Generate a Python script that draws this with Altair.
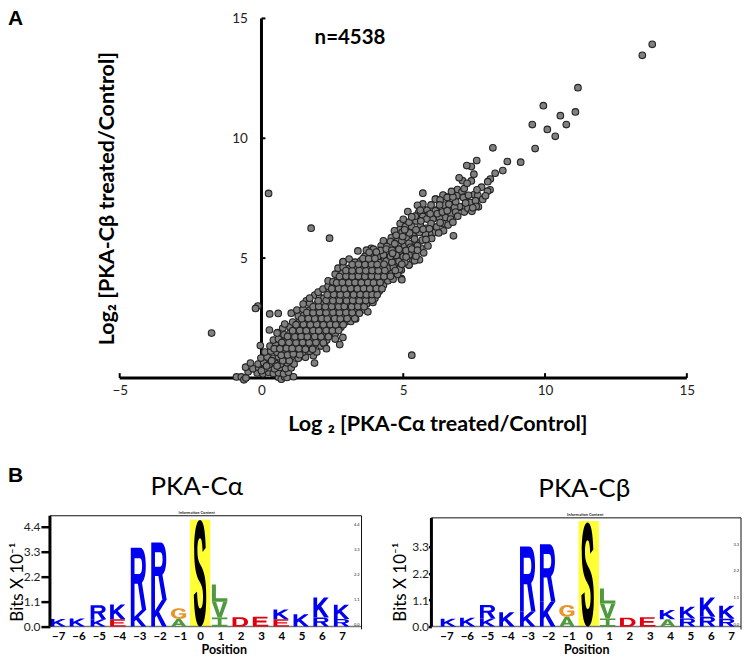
import re
import altair as alt
import pandas as pd

FONT = "Lato"

# ---------- Panel A values ----------
scatter_points = [
# outliers and the sparse tail
(13.78,13.92),(13.43,13.46),(11.16,12.11),(9.94,11.36),(10.54,10.94),(11.07,11.1),(10.75,10.57),(9.55,10.57),
(10.08,10.37),(10.36,10.08),(9.65,9.57),(8.16,9.6),(9.14,9.0),(8.67,9.03),(8.51,8.65),(8.24,8.54),(8.07,8.3),
(7.98,8.19),(8.06,7.85),(7.97,7.79),(7.76,7.96),(7.59,9.07),(7.4,8.82),(7.24,8.86),(7.49,8.5),(7.4,8.22),
(7.09,8.23),(6.97,8.35),(6.91,7.86),(7.07,7.76),(7.14,7.53),(6.89,7.58),(6.42,7.61),(6.56,7.54),(6.15,7.46),
(7.5,7.65),(7.63,7.62),(7.56,7.38),(7.38,7.3),(7.65,7.14),(7.07,7.14),(6.95,7.11),(6.62,7.24),(6.47,7.18),
(6.16,7.0),(6.01,6.97),(6.7,6.8),(6.48,6.73),(6.3,6.7),(6.71,6.97),
(0.25,7.7),(1.75,6.25),(2.4,5.83),(5.3,0.95),(-1.76,1.87),(-0.13,3.0),(-0.21,2.9),(0.29,2.67),(0.59,2.69),
(0.28,2.0),(0.57,1.89),(-0.04,1.35),
# upper band
(5.69,7.71),(6.4,7.63),(6.55,7.53),(6.89,7.6),(7.12,7.53),(6.13,7.46),(5.69,7.26),(7.36,7.32),(7.55,7.39),
(6.45,7.21),(6.61,7.25),(6.98,7.15),(6.81,7.11),(5.16,6.94),(5.54,6.9),(5.84,7.0),(6.13,6.97),(7.57,7.15),
(5.87,6.79),(5.69,6.74),(6.69,6.83),(6.48,6.69),(6.28,6.65),(6.04,6.63),(5.83,6.63),(6.67,6.63),(4.89,6.44),
(5.98,6.44),(6.4,6.44),(5.08,6.32),(5.3,6.32),(5.6,6.38),(5.81,6.24),(4.87,6.18),(4.69,6.14),(6.42,6.14),
(6.77,5.93),(6.1,6.07),(5.93,6.0),(5.78,6.0),(5.57,6.07),(4.96,6.07),(5.34,5.93),(4.58,5.86),(4.81,5.79),
(5.1,5.86),(5.67,5.75),(5.46,5.65),(5.87,5.51),(5.05,5.49),(4.81,5.54),(4.55,5.69),(4.22,5.51),(4.4,5.24),
(4.63,5.31),(4.87,5.24),(5.16,5.24),(5.46,5.38),(5.34,5.17),(5.57,4.93),(5.2,4.71),(4.81,4.93),(4.52,4.96),
(4.34,4.96),(4.93,4.5),(4.52,4.54),(4.22,4.68),(4.69,4.75),(5.01,4.93),(5.34,4.89),(4.17,5.17),(4.93,4.15),
# denser reading of the band above y = 5
(4.3,5.72),(4.42,5.48),(4.7,5.6),(4.95,5.72),(5.2,5.62),(5.4,5.8),(5.62,5.42),(5.72,5.22),(5.5,5.52),(5.25,5.45),
(4.75,5.95),(4.98,5.9),(5.22,6.05),(5.45,6.18),(5.7,6.2),(5.92,6.22),(6.18,6.3),(6.0,5.82),(5.8,5.78),(6.25,6.05),
(5.05,6.18),(5.2,6.5),(5.45,6.55),(5.62,6.55),(5.42,6.75),(5.95,6.85),(6.2,6.85),(6.38,6.92),(6.55,6.98),(6.85,6.92),
(5.3,6.72),(5.0,6.62),(6.3,6.48),(6.58,6.38),(6.75,6.5),(6.92,6.75),(7.15,6.92),(7.28,7.08),(7.42,6.95),(6.85,7.35),
(6.3,7.42),(5.98,7.22),(6.28,7.22),(7.2,7.3),(5.5,7.2),(5.6,7.0),(7.3,7.62),(7.15,7.9),(7.25,8.12),(7.6,7.85),
(6.75,7.55),(6.7,7.78),(7.8,7.45),(7.9,7.6),(7.45,7.1),
(1.58,3.22),(1.88,3.46),(2.46,3.99),(2.87,4.82),(3.87,5.41),
# main band, rising from the origin
(-0.88,0.04),(-0.71,0.04),(-0.62,-0.08),(-0.55,0.0),(0.6,0.03),(0.7,-0.05),(0.82,0.04),(0.9,0.02),(1.13,0.05),
(-0.47,0.26),(-0.15,0.21),(0.05,0.17),(0.25,0.24),(0.42,0.19),(0.6,0.22),(0.78,0.17),(0.95,0.24),
(-0.56,0.45),(-0.3,0.38),(-0.1,0.44),(0.1,0.37),(0.28,0.43),(0.46,0.38),(0.65,0.44),(0.85,0.39),(1.05,0.42),
(-0.39,0.62),(-0.12,0.58),(0.08,0.63),(0.27,0.57),(0.48,0.62),(0.68,0.58),(0.9,0.63),(1.15,0.58),(1.87,0.62),
(-0.02,0.83),(0.2,0.87),(0.42,0.82),(0.6,0.88),(0.85,0.83),(1.05,0.87),(1.3,0.82),(1.55,0.86),(1.83,0.93),
(0.12,1.08),(0.33,1.12),(0.55,1.07),(0.78,1.13),(1.0,1.08),(1.2,1.12),(1.45,1.07),(1.7,1.11),(1.95,1.08),
(0.3,1.33),(0.5,1.37),(0.7,1.32),(0.95,1.38),(1.15,1.33),(1.4,1.37),(1.6,1.32),(1.85,1.36),(2.1,1.33),(2.22,1.42),(2.29,1.22),
(0.42,1.58),(0.6,1.62),(0.85,1.57),(1.1,1.63),(1.3,1.58),(1.55,1.62),(1.8,1.57),(2.05,1.61),(2.3,1.58),(2.76,1.39),(2.87,1.69),
(0.55,1.87),(0.8,1.8),(1.0,1.86),(1.25,1.82),(1.5,1.87),(1.72,1.83),(1.95,1.86),(2.15,1.82),(2.4,1.92),(2.6,1.84),
(0.75,2.08),(1.0,2.13),(1.2,2.07),(1.45,2.12),(1.65,2.08),(1.9,2.13),(2.1,2.07),(2.35,2.12),(2.55,2.08),(2.8,2.12),
(0.82,2.25),(1.1,2.33),(1.35,2.37),(1.55,2.32),(1.8,2.38),(2.0,2.33),(2.25,2.37),(2.5,2.32),(2.7,2.37),(2.95,2.33),(3.15,2.36),
(1.05,2.7),(1.3,2.58),(1.5,2.63),(1.75,2.58),(1.95,2.62),(2.2,2.57),(2.4,2.63),(2.65,2.58),(2.85,2.62),(3.11,2.62),(3.32,2.46),(3.29,2.48),
(1.25,2.83),(1.47,2.87),(1.7,2.82),(1.9,2.88),(2.15,2.83),(2.35,2.87),(2.6,2.82),(2.85,2.87),(3.05,2.83),(3.3,2.87),(3.55,2.83),(3.75,2.76),
(1.47,3.08),(1.7,3.12),(1.95,3.07),(2.1,3.13),(2.35,3.08),(2.6,3.12),(2.8,3.07),(3.0,3.12),(3.25,3.08),(3.5,3.12),(3.7,3.07),(3.93,3.15),
(1.7,3.33),(2.05,3.36),(2.2,3.32),(2.45,3.37),(2.65,3.33),(2.9,3.38),(3.15,3.32),(3.35,3.37),(3.6,3.33),(3.8,3.37),(4.0,3.33),
(2.0,3.58),(2.17,3.71),(2.4,3.62),(2.6,3.57),(2.85,3.63),(3.05,3.58),(3.3,3.62),(3.5,3.57),(3.75,3.63),(3.95,3.58),(4.15,3.62),
(2.35,3.83),(2.52,3.87),(2.75,3.82),(2.95,3.88),(3.2,3.83),(3.4,3.87),(3.65,3.82),(3.85,3.88),(4.1,3.83),(4.3,3.87),
(2.35,4.05),(2.52,4.01),(2.7,4.12),(2.9,4.07),(3.1,4.13),(3.35,4.08),(3.55,4.12),(3.8,4.07),(4.0,4.13),(4.22,4.05),(4.46,4.05),(4.64,4.12),(4.95,4.1),
(2.6,4.33),(2.85,4.37),(3.05,4.32),(3.3,4.38),(3.5,4.33),(3.75,4.37),(3.95,4.32),(4.15,4.38),(4.4,4.33),(4.6,4.37),(4.8,4.33),
(2.7,4.58),(2.88,4.62),(3.1,4.57),(3.35,4.63),(3.6,4.58),(3.8,4.62),(4.05,4.57),(4.25,4.63),(4.45,4.58),(4.65,4.62),(4.87,4.54),(5.2,4.71),
(2.88,4.85),(3.09,4.96),(3.3,4.83),(3.5,4.88),(3.75,4.83),(3.95,4.87),(4.15,4.82),(4.4,4.88),(4.6,4.83),(4.85,4.87),(5.05,4.83),(5.4,4.89),
(3.4,5.3),(3.65,5.08),(3.85,5.12),(4.1,5.07),(4.3,5.13),(4.55,5.08),(4.75,5.12),(5.0,5.07),(5.2,5.13),(5.45,5.08),
(3.7,5.33),(3.95,5.37),(4.2,5.32),(4.4,5.38),(4.6,5.33),(4.85,5.37),(5.1,5.32),(5.3,5.38),(5.5,5.33),
# interleaved second pass through the dense core
(0.0,0.3),(0.18,0.5),(0.36,0.72),(0.55,0.5),(0.75,0.72),(0.98,0.72),(0.7,0.95),(0.92,0.96),(1.12,1.0),(1.35,0.97),
(0.45,1.22),(0.65,1.22),(0.88,1.24),(1.08,1.23),(1.32,1.22),(1.55,1.2),(1.8,1.2),
(0.72,1.48),(0.97,1.48),(1.22,1.47),(1.45,1.48),(1.68,1.47),(1.92,1.48),(2.18,1.47),
(0.92,1.73),(1.18,1.72),(1.4,1.73),(1.62,1.72),(1.88,1.73),(2.1,1.72),(2.36,1.72),(2.6,1.62),
(1.1,1.97),(1.35,1.98),(1.58,1.97),(1.82,1.98),(2.02,1.97),(2.28,1.98),(2.5,1.97),(2.72,1.98),
(1.22,2.22),(1.48,2.23),(1.72,2.22),(1.95,2.23),(2.18,2.22),(2.42,2.23),(2.62,2.22),(2.88,2.22),
(1.42,2.47),(1.65,2.48),(1.88,2.47),(2.12,2.48),(2.32,2.47),(2.58,2.48),(2.78,2.47),(3.02,2.48),
(1.6,2.73),(1.82,2.72),(2.05,2.73),(2.28,2.72),(2.52,2.73),(2.75,2.72),(2.98,2.73),(3.2,2.72),(3.45,2.7),
(1.82,2.97),(2.02,2.98),(2.25,2.97),(2.48,2.98),(2.72,2.97),(2.92,2.98),(3.18,2.97),(3.4,2.98),(3.62,2.97),
(2.0,3.22),(2.28,3.23),(2.52,3.22),(2.75,3.23),(3.0,3.22),(3.22,3.23),(3.45,3.22),(3.68,3.23),(3.9,3.24),
(2.32,3.47),(2.55,3.48),(2.78,3.47),(3.0,3.48),(3.25,3.47),(3.48,3.48),(3.7,3.47),(3.9,3.48),(4.08,3.47),
(2.48,3.72),(2.72,3.73),(2.92,3.72),(3.15,3.73),(3.38,3.72),(3.6,3.73),(3.82,3.72),(4.05,3.73),(4.25,3.72),
(2.65,3.97),(2.85,3.98),(3.08,3.97),(3.3,3.98),(3.52,3.97),(3.75,3.98),(3.95,3.97),(4.18,3.98),
(2.75,4.23),(2.98,4.24),(3.2,4.23),(3.42,4.24),(3.65,4.23),(3.88,4.24),(4.1,4.23),(4.32,4.23),(4.55,4.24),
(2.98,4.48),(3.2,4.47),(3.45,4.48),(3.68,4.47),(3.9,4.48),(4.12,4.47),(4.35,4.48),(4.72,4.48),
(3.2,4.73),(3.42,4.74),(3.65,4.73),(3.88,4.74),(4.08,4.73),(4.32,4.74),(4.95,4.74),
(3.58,4.98),(3.78,4.97),(4.0,4.98),(4.62,5.2),(5.1,5.05),(3.8,5.24),(4.05,5.25),
]
n_label = ["n=4538"]
panel_letters = ["A", "B"]
x_ticks_a = [-5, 0, 5, 10, 15]
y_ticks_a = [5, 10, 15]
x_tick_marks_a = [-5, 5, 10, 15]
x_extent_a = [-5, 15]
y_extent_a = [0, 15]

# ---------- Panel B values (bits, bottom to top in each column) ----------
positions = [-7, -6, -5, -4, -3, -2, -1, 0, 1, 2, 3, 4, 5, 6, 7]
logo_alpha = [
    [("K", .34)], [("K", .36)], [("K", .32), ("R", .62)], [("E", .32), ("K", .65)],
    [("K", .73), ("R", 2.75)], [("K", 1.17), ("R", 2.54)], [("A", .34), ("G", .47)],
    [("S", 4.7)], [("I", .40), ("V", .70), ("L", .76)], [("D", .41)], [("E", .44)],
    [("E", .32), ("K", .44)], [("K", .54)], [("R", .40), ("K", .88)], [("R", .34), ("K", .62)],
]
logo_beta = [
    [("K", .32)], [("K", .37)], [("K", .34), ("R", .55)], [("K", .59)],
    [("K", .62), ("R", 2.69)], [("K", 1.03), ("R", 2.38)], [("A", .41), ("G", .48)],
    [("S", 4.31)], [("I", .34), ("V", .62), ("L", .62)], [("D", .37)], [("E", .39)],
    [("A", .30), ("K", .39)], [("R", .34), ("K", .48)], [("R", .41), ("K", .79)], [("R", .32), ("K", .54)],
]
columns_alpha = [-6.99, -6.05, -5.02, -4.06, -3.04, -2.03, -1.06, 0.0, 0.96, 1.98, 2.98, 4.0, 4.99, 5.97, 6.98]
columns_beta = [-6.9, -5.95, -4.97, -4.02, -3.0, -2.02, -1.07, -0.05, 0.93, 1.92, 2.9, 3.88, 4.87, 5.85, 6.8]
ticks_alpha = [0.0, 1.1, 2.2, 3.3, 4.4]
ticks_beta = [0.0, 1.1, 2.2, 3.3]
highlight_alpha = 4.71
highlight_beta = 4.37
frame_top_alpha = 4.89
frame_top_beta = 4.5
letter_colors = {"K": "#0000f0", "R": "#0000f0", "E": "#e00010", "D": "#e00010",
                 "A": "#4f9a3c", "I": "#4f9a3c", "V": "#4f9a3c", "L": "#4f9a3c",
                 "G": "#e8962c", "S": "#000000"}

# Logo letters are stretched to their bit height, which a text mark cannot do,
# so each one is a glyph outline in a unit box, scaled per letter below.
glyphs = {
    "K": "M0 0 L.24 0 L.24 .40 L.68 0 L.98 0 L.50 .44 L1 1 L.70 1 L.34 .58 L.24 .67 L.24 1 L0 1 Z",
    "R": "M0 0 L.6 0 C.85 0 .97 .13 .97 .29 C.97 .43 .88 .52 .72 .56 L1 1 L.72 1 L.46 .58 L.24 .58 L.24 1 L0 1 Z "
         "M.24 .17 L.24 .42 L.55 .42 C.68 .42 .73 .37 .73 .29 C.73 .21 .68 .17 .55 .17 Z",
    "E": "M0 0 L.95 0 L.95 .18 L.25 .18 L.25 .40 L.88 .40 L.88 .58 L.25 .58 L.25 .82 L1 .82 L1 1 L0 1 Z",
    "A": "M.37 0 L.63 0 L1 1 L.74 1 L.66 .78 L.34 .78 L.26 1 L0 1 Z M.5 .27 L.40 .60 L.60 .60 Z",
    "G": "M.97 .30 L.74 .33 C.70 .22 .62 .17 .52 .17 C.35 .17 .25 .30 .25 .50 C.25 .70 .35 .83 .52 .83 "
         "C.60 .83 .68 .80 .74 .74 L.74 .62 L.52 .62 L.52 .46 L.98 .46 L.98 .82 C.88 .94 .72 1 .52 1 "
         "C.20 1 0 .80 0 .50 C0 .20 .20 0 .52 0 C.76 0 .92 .10 .97 .30 Z",
    "D": "M0 0 L.50 0 C.82 0 1 .20 1 .50 C1 .80 .82 1 .50 1 L0 1 Z "
         "M.25 .18 L.25 .82 L.48 .82 C.66 .82 .75 .70 .75 .50 C.75 .30 .66 .18 .48 .18 Z",
    "L": "M0 0 L.26 0 L.26 .80 L1 .80 L1 1 L0 1 Z",
    "V": "M0 0 L.27 0 L.5 .70 L.73 0 L1 0 L.63 1 L.37 1 Z",
    "I": "M0 0 L1 0 L1 .2 L.62 .2 L.62 .8 L1 .8 L1 1 L0 1 L0 .8 L.38 .8 L.38 .2 L0 .2 Z",
    "S": "M.93 .26 L.69 .30 C.67 .21 .60 .17 .49 .17 C.37 .17 .29 .21 .29 .28 C.29 .35 .36 .38 .52 .42 "
         "C.82 .48 .97 .56 .97 .72 C.97 .90 .78 1 .50 1 C.22 1 .05 .90 .01 .70 L.26 .67 C.29 .78 .37 .83 .50 .83 "
         "C.64 .83 .72 .79 .72 .72 C.72 .65 .64 .62 .46 .58 C.18 .52 .04 .44 .04 .28 C.04 .11 .22 0 .49 0 "
         "C.74 0 .89 .09 .93 .26 Z",
}


def glyph_path(letter, w, h):
    """Outline of a letter, centred on its mark and stretched to w x h pixels."""
    res, coord = [], 0
    for t in re.findall(r"[MLCZ]|-?\d*\.?\d+", glyphs[letter]):
        if t in "MLCZ":
            res.append(t)
            coord = 0
        else:
            scale = w if coord % 2 == 0 else h
            res.append(f"{(float(t) - .5) * scale:.2f}")
            coord += 1
    return " ".join(res)


def logo_frame(logo, columns, px_per_bit, width_px):
    rows = []
    for col, stack in zip(columns, logo):
        base = 0.0
        for letter, bits in stack:
            w = 13.0 if letter == "S" else width_px
            rows.append({"x": col, "letter": letter, "bits": bits, "y": base + bits / 2,
                         "color": letter_colors[letter],
                         "path": glyph_path(letter, w, bits * px_per_bit)})
            base += bits
    return pd.DataFrame(rows)


def chart_a():
    W, H = 692, 360
    xs = alt.Scale(domain=[-7.46, 16.91], nice=False, zero=False)
    ys = alt.Scale(domain=[0, 15], nice=False, zero=False)
    xax = alt.Axis(
        values=x_ticks_a, domain=False, ticks=False, grid=False, labelFont=FONT, labelFontSize=13.5,
        labelColor="#222", labelPadding=6, labelFlush=False, format="d",
        title="Log ₂ [PKA-Cα treated/Control]", titleFont=FONT, titleFontSize=21.5, titleFontWeight="bold",
        titleColor="#000", titleX=388, titleY=36)
    yax = alt.Axis(
        values=y_ticks_a, offset=-211.7, domain=False, ticks=False, grid=False, labelFont=FONT,
        labelFontSize=13.5, labelColor="#222", labelPadding=14, format="d",
        title="Log₂ [PKA-Cβ treated/Control]", titleFont=FONT, titleFontSize=21.5, titleFontWeight="bold",
        titleColor="#000", titleX=-143, titleY=180)
    xf = alt.X("x:Q", scale=xs, axis=xax)
    yf = alt.Y("y:Q", scale=ys, axis=yax)

    pts = pd.DataFrame(scatter_points, columns=["x", "y"])
    x_line = alt.Chart(pd.DataFrame({"x": [x_extent_a[0]], "x2": [x_extent_a[1]], "y": [0]})).mark_rule(
        strokeWidth=3, color="#000").encode(x=xf, x2="x2:Q", y=yf)
    y_line = alt.Chart(pd.DataFrame({"x": [0], "y": [y_extent_a[0]], "y2": [y_extent_a[1]]})).mark_rule(
        strokeWidth=3, color="#000").encode(x=xf, y=yf, y2="y2:Q")
    x_tk = alt.Chart(pd.DataFrame({"x": x_tick_marks_a})).transform_calculate(y="0", y2="0.2").mark_rule(
        strokeWidth=2, color="#000").encode(x=xf, y=yf, y2="y2:Q")
    y_tk = alt.Chart(pd.DataFrame({"y": y_ticks_a})).transform_calculate(x="0", x2="0.14").mark_rule(
        strokeWidth=2, color="#000").encode(x=xf, x2="x2:Q", y=yf)
    dots = alt.Chart(pts).mark_point(filled=True, size=44, fill="#808080", stroke="#222222",
                                     strokeWidth=1.1, opacity=1).encode(x=xf, y=yf)
    n = alt.Chart(pd.DataFrame({"t": n_label})).mark_text(
        font=FONT, fontSize=20.5, fontWeight="bold", color="#000", align="left", baseline="alphabetic").encode(
        x=alt.value(265), y=alt.value(26), text="t:N")
    a = alt.Chart(pd.DataFrame({"t": panel_letters[:1]})).mark_text(
        font="Liberation Sans", fontSize=21, fontWeight="bold", color="#000", align="left", baseline="alphabetic"
    ).encode(x=alt.value(-42), y=alt.value(7), text="t:N")
    b = alt.Chart(pd.DataFrame({"t": panel_letters[1:]})).mark_text(
        font="Liberation Sans", fontSize=21, fontWeight="bold", color="#000", align="left", baseline="alphabetic"
    ).encode(x=alt.value(-42), y=alt.value(464), text="t:N")
    return alt.layer(x_line, y_line, x_tk, y_tk, dots, n, a, b).properties(width=W, height=H)


def chart_logo(title, logo, columns, ticks, highlight, frame_top, xdom, ydom, W, H,
               title_dx, pos_x, tick_size, label_pad, bits_x, info_x, px_per_bit):
    xs = alt.Scale(domain=xdom, nice=False, zero=False)
    ys = alt.Scale(domain=ydom, nice=False, zero=False)
    xax = alt.Axis(
        values=positions, domain=False, ticks=False, grid=False, labelFont=FONT, labelFontSize=11.5,
        labelFontWeight="bold", labelColor="#000", labelPadding=4, labelFlush=False, labelOverlap=False,
        format="d", title="Position", titleFont=FONT, titleFontSize=12.5, titleFontWeight="bold",
        titleColor="#000", titleX=pos_x, titleY=17)
    yax = alt.Axis(
        values=ticks, domain=False, tickColor="#000", tickWidth=2.5, tickSize=tick_size, grid=False,
        labelFont=FONT, labelFontSize=12, labelColor="#222", labelPadding=label_pad, format=".1f",
        title="Bits X 10⁻¹", titleFont=FONT, titleFontSize=17, titleFontWeight="normal", titleColor="#000",
        titleBaseline="alphabetic", titleX=bits_x, titleY=66)
    xf = alt.X("x:Q", scale=xs, axis=xax)
    yf = alt.Y("y:Q", scale=ys, axis=yax)

    band = alt.Chart(pd.DataFrame({"x": [-0.5], "x2": [0.5], "y": [0], "y2": [highlight]})).mark_rect(
        color="#ffff33").encode(x=xf, x2="x2:Q", y=yf, y2="y2:Q")
    letters = alt.Chart(logo_frame(logo, columns, px_per_bit, 15.5)).mark_point(
        filled=True, size=4, strokeWidth=0, opacity=1).encode(
        x=xf, y=yf,
        shape=alt.Shape("path:N", scale=None),
        fill=alt.Fill("color:N", scale=None),
    )
    left = alt.Chart(pd.DataFrame({"x": [xdom[0]], "y": [0], "y2": [frame_top]})).mark_rule(
        strokeWidth=3, color="#000").encode(x=xf, y=yf, y2="y2:Q")
    right = alt.Chart(pd.DataFrame({"x": [xdom[1]], "y": [-0.12], "y2": [frame_top]})).mark_rule(
        strokeWidth=1, color="#111").encode(x=xf, y=yf, y2="y2:Q")
    top = alt.Chart(pd.DataFrame({"x": [xdom[0]], "x2": [xdom[1]], "y": [frame_top]})).mark_rule(
        strokeWidth=1, color="#111").encode(x=xf, x2="x2:Q", y=yf)
    floor = alt.Chart(pd.DataFrame({"x": [xdom[0]], "x2": [xdom[1]], "y": [0]})).mark_rule(
        strokeWidth=1.5, color="#777").encode(x=xf, x2="x2:Q", y=yf)
    small = alt.Chart(pd.DataFrame({"y": ticks, "t": [f"{v:.1f}" for v in ticks]})).mark_text(
        font=FONT, fontSize=4, color="#222", align="right", baseline="bottom").encode(
        x=alt.value(W - 2), y=yf, text="t:N")
    info = alt.Chart(pd.DataFrame({"t": ["Information Content"]})).mark_text(
        font=FONT, fontSize=4, fontWeight="bold", color="#222", align="center", baseline="bottom").encode(
        x=alt.value(info_x), y=alt.value(-1 if frame_top == ydom[1] else 1), text="t:N")
    return alt.layer(band, floor, letters, left, right, top, small, info).properties(
        width=W, height=H,
        title=alt.TitleParams(title, font=FONT, fontSize=26, fontWeight="normal", color="#000", frame="group",
                              anchor="middle", dx=title_dx, offset=-10, baseline="alphabetic"))


a = chart_a()
b1 = chart_logo("PKA-Cα", logo_alpha, columns_alpha, ticks_alpha, highlight_alpha, frame_top_alpha,
                [-7.41, 7.96], [0, 4.89], 312, 111, -9, 174, 9, 1, -27, 147, 22.7)
b2 = chart_logo("PKA-Cβ", logo_beta, columns_beta, ticks_beta, highlight_beta, frame_top_beta,
                [-7.74, 7.49], [0, 4.587], 310, 111, -2, 155, 3, 0, -26, 154, 24.2)

chart = alt.vconcat(
    a,
    alt.hconcat(b1, b2, spacing=70, bounds="flush"),
    spacing=138, bounds="flush",
).resolve_scale(x="independent", y="independent").configure(
    padding=0, background="white"
).configure_view(stroke=None)

chart.save("out.html", embed_options={"renderer": "svg", "actions": False})
